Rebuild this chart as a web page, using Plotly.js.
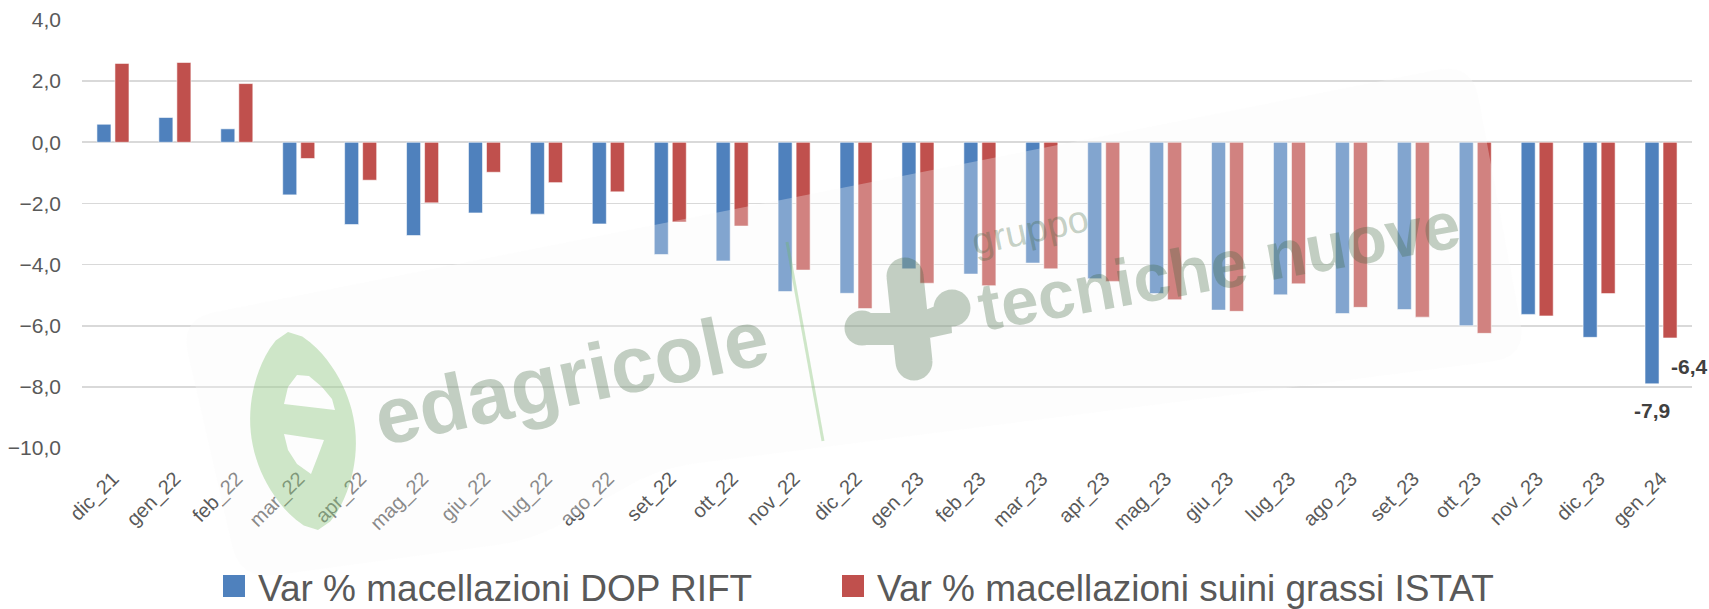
<!DOCTYPE html>
<html>
<head>
<meta charset="utf-8">
<script src="https://cdn.plot.ly/plotly-3.0.1.min.js"></script>
<style>
  html, body { margin: 0; padding: 0; background: #ffffff; }
  #chart { width: 1709px; height: 609px; }
</style>
</head>
<body>
<div id="chart"></div>
<script>
// ---- data ----
const categories = ['dic_21','gen_22','feb_22','mar_22','apr_22','mag_22','giu_22','lug_22','ago_22','set_22','ott_22','nov_22','dic_22','gen_23','feb_23','mar_23','apr_23','mag_23','giu_23','lug_23','ago_23','set_23','ott_23','nov_23','dic_23','gen_24'];
const dopRift = [0.59, 0.81, 0.44, -1.72, -2.69, -3.05, -2.31, -2.35, -2.67, -3.67, -3.88, -4.88, -4.94, -4.14, -4.31, -3.95, -4.46, -4.95, -5.49, -4.99, -5.60, -5.47, -6.00, -5.63, -6.38, -7.90];
const istat = [2.58, 2.61, 1.92, -0.53, -1.24, -1.98, -0.98, -1.32, -1.62, -2.61, -2.74, -4.18, -5.44, -4.61, -4.69, -4.14, -4.55, -5.15, -5.53, -4.63, -5.40, -5.72, -6.25, -5.68, -4.95, -6.40];
const seriesNames = ['Var % macellazioni DOP RIFT', 'Var % macellazioni suini grassi ISTAT'];
const yTicks = [-10, -8, -6, -4, -2, 0, 2, 4];

// ---- styles ----
const BLUE = '#4F81BD', RED = '#C0504D';
const TXT = '#595959';
const FONT = 'Liberation Sans, Arial, sans-serif';
const W = 1709, H = 609, L = 82, R = 17, T = 20, B = 161;
const PW = W - L - R, PH = H - T - B;
const fmt = v => v.toFixed(1).replace('.', ',');

// pixel -> paper helpers (decorations / manual legend only)
const px = x => (x - L) / PW;
const py = y => 1 - (y - T) / PH;
function area(p){ let a=0; for(let i=0;i<p.length;i++){const q=p[(i+1)%p.length]; a+=p[i][0]*q[1]-q[0]*p[i][1];} return a/2; }
function orient(p, s){ return (Math.sign(area(p)) === s) ? p : p.slice().reverse(); }
function sub(p){ return 'M' + p.map(q => px(q[0]).toFixed(5) + ',' + py(q[1]).toFixed(5)).join('L') + 'Z'; }
function circle(cx, cy, r, n){ n = n || 32; const out=[]; for(let i=0;i<n;i++){const a=2*Math.PI*i/n; out.push([cx+r*Math.cos(a), cy+r*Math.sin(a)]);} return out; }
function quad(x1,y1,x2,y2,r){ const dx=x2-x1, dy=y2-y1, len=Math.hypot(dx,dy); const nx=-dy/len*r, ny=dx/len*r; return [[x1+nx,y1+ny],[x2+nx,y2+ny],[x2-nx,y2-ny],[x1-nx,y1-ny]]; }
// smooth a polygon's corners with quadratic-ish chamfers
function rounded(pts, r){
  const out=[];
  for(let i=0;i<pts.length;i++){
    const p=pts[i], a=pts[(i-1+pts.length)%pts.length], b=pts[(i+1)%pts.length];
    const la=Math.hypot(a[0]-p[0],a[1]-p[1]), lb=Math.hypot(b[0]-p[0],b[1]-p[1]);
    const ra=Math.min(r, la/2), rb=Math.min(r, lb/2);
    const s=[p[0]+(a[0]-p[0])*ra/la, p[1]+(a[1]-p[1])*ra/la], e=[p[0]+(b[0]-p[0])*rb/lb, p[1]+(b[1]-p[1])*rb/lb];
    for(let k=0;k<=6;k++){ const t=k/6, u=1-t; out.push([u*u*s[0]+2*u*t*p[0]+t*t*e[0], u*u*s[1]+2*u*t*p[1]+t*t*e[1]]); }
  }
  return out;
}

// watermark light overlay
const overlayPath = sub(rounded([[180,319],[1472,63],[1527,357],[660,468],[533,540],[240,580]], 35));

// edagricole leaf "e"
const eTop=[288,332], eBot=[318,530];
const ax=eBot[0]-eTop[0], ay=eBot[1]-eTop[1], alen=Math.hypot(ax,ay);
const nX=ay/alen, nY=-ax/alen;
const leaf=[];
for(let i=0;i<=30;i++){ const t=i/30, w=52*Math.pow(Math.sin(Math.PI*t),0.6); leaf.push([eTop[0]+ax*t+nX*w, eTop[1]+ay*t+nY*w]); }
for(let i=30;i>=0;i--){ const t=i/30, w=52*Math.pow(Math.sin(Math.PI*t),0.6); leaf.push([eTop[0]+ax*t-nX*w, eTop[1]+ay*t-nY*w]); }
const holeUp=[[284,404],[288,387],[297,375],[309,376],[322,387],[332,399],[335,410]];
const holeLow=[[284,434],[324,440],[318,456],[311,474],[297,464],[288,450]];
const ePath = sub(orient(leaf,1)) + sub(orient(holeUp,-1)) + sub(orient(holeLow,-1));

// tecniche nuove blob logo
const blobParts = [
  circle(905,276,18.5), circle(914,362,18.5), quad(905,276,914,362,18.5),
  circle(862,328,17.5), [[862,313],[900,313],[900,345],[862,345]],
  circle(952,308,18.5), [[918,313],[950,300],[952,333],[920,340]]
];
const blobPath = blobParts.map(p => sub(orient(p,1))).join('');

const WM = 'rgba(60,100,60,0.30)';
const GREEN = 'rgba(110,185,90,0.32)';

// ---- traces ----
const traces = [
  { type:'bar', x:categories, y:dopRift, name:seriesNames[0], marker:{color:BLUE, line:{color:'rgba(255,255,255,0.7)', width:0.8}}, showlegend:false, hoverinfo:'skip' },
  { type:'bar', x:categories, y:istat, name:seriesNames[1], marker:{color:RED, line:{color:'rgba(255,255,255,0.7)', width:0.8}}, showlegend:false, hoverinfo:'skip' }
];

const last = categories.length - 1;
const layout = {
  width: W, height: H,
  margin: {l:L, r:R, t:T, b:B, pad:0},
  paper_bgcolor:'#ffffff', plot_bgcolor:'#ffffff',
  separators: ',.',
  barmode:'group', bargap:0.418, bargroupgap:0.222,
  showlegend:false,
  font:{family:FONT, color:TXT},
  xaxis:{
    type:'category', categoryorder:'array', categoryarray:categories,
    range:[-0.5, categories.length - 0.5],
    showgrid:false, showline:false, zeroline:false, ticks:'',
    tickangle:-45, tickfont:{family:FONT, size:20, color:TXT},
    ticklabelstandoff: 14
  },
  yaxis:{
    range:[-10, 4], tickvals:yTicks, tickformat:'.1f',
    showgrid:true, gridcolor:'#D9D9D9', gridwidth:1.6,
    zeroline:true, zerolinecolor:'#D9D9D9', zerolinewidth:1.6,
    showline:false, ticks:'',
    tickfont:{family:FONT, size:21, color:TXT},
    ticklabelstandoff: 20
  },
  shapes:[
    {type:'path', xref:'paper', yref:'paper', layer:'above', path:overlayPath, fillcolor:'rgba(248,248,248,0.30)', line:{width:0}},
    {type:'path', xref:'paper', yref:'paper', layer:'above', path:ePath, fillcolor:GREEN, fillrule:'evenodd', line:{width:0}},
    {type:'line', xref:'paper', yref:'paper', layer:'above', x0:px(787), y0:py(242), x1:px(823), y1:py(441), line:{color:GREEN, width:3}},
    {type:'path', xref:'paper', yref:'paper', layer:'above', path:blobPath, fillcolor:WM, fillrule:'nonzero', line:{width:0}},
    // manual legend keys
    {type:'rect', xref:'paper', yref:'paper', x0:px(223), x1:px(245), y0:py(575), y1:py(597), fillcolor:BLUE, line:{width:0}},
    {type:'rect', xref:'paper', yref:'paper', x0:px(842), x1:px(864), y0:py(575), y1:py(597), fillcolor:RED, line:{width:0}}
  ],
  annotations:[
    {xref:'paper', yref:'paper', x:px(571), y:py(377), xanchor:'center', yanchor:'middle', text:'edagricole', showarrow:false, textangle:-12, font:{family:FONT, size:80, color:WM, weight:700}},
    {xref:'paper', yref:'paper', x:px(1030), y:py(230), xanchor:'center', yanchor:'middle', text:'gruppo', showarrow:false, textangle:-12, font:{family:FONT, size:38, color:WM}},
    {xref:'paper', yref:'paper', x:px(1219), y:py(265), xanchor:'center', yanchor:'middle', text:'tecniche nuove', showarrow:false, textangle:-10, font:{family:FONT, size:67, color:WM, weight:700}},
    // data labels
    {xref:'x', yref:'y', x:categories[last], y:dopRift[last], text:'<b>' + fmt(dopRift[last]) + '</b>', showarrow:false, xshift:-9, yshift:-27, font:{family:FONT, size:21, color:'#404040'}},
    {xref:'x', yref:'y', x:categories[last], y:istat[last], text:'<b>' + fmt(istat[last]) + '</b>', showarrow:false, xshift:28, yshift:-29, font:{family:FONT, size:21, color:'#404040'}},
    // manual legend text
    {xref:'paper', yref:'paper', x:px(256), y:py(588), xanchor:'left', yanchor:'middle', text:seriesNames[0], showarrow:false, font:{family:FONT, size:37, color:TXT}},
    {xref:'paper', yref:'paper', x:px(875), y:py(588), xanchor:'left', yanchor:'middle', text:seriesNames[1], showarrow:false, font:{family:FONT, size:37, color:TXT}}
  ]
};

Plotly.newPlot('chart', traces, layout, {displayModeBar:false, staticPlot:true});
</script>
</body>
</html>
